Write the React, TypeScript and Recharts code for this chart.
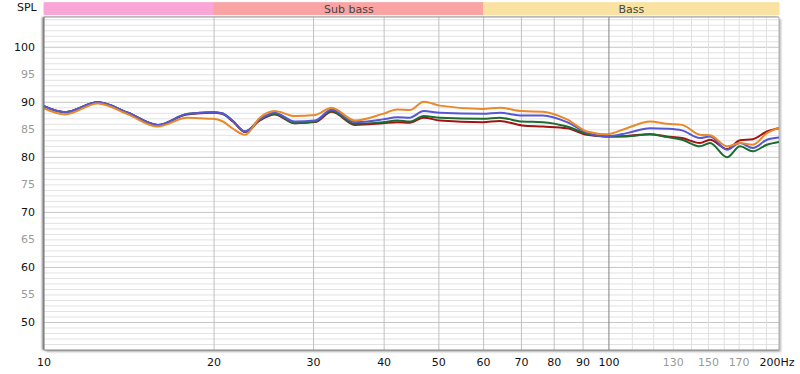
import React from 'react';
import { LineChart, Line, XAxis, YAxis, CartesianGrid, ReferenceArea, ReferenceLine } from 'recharts';

const freqs = [10, 10.9, 12.46, 14.08, 15.9, 17.9, 18.9, 19.9, 20.65, 21.6, 22.7, 24.1, 25.6, 27.8, 30.2, 32.3, 35.5, 39.8, 42.2, 44.4, 47.0, 50.2, 59.8, 64.1, 70.2, 76.4, 84.3, 91.4, 99.2, 107.6, 118.2, 126.7, 134.7, 144.9, 151, 161.8, 170.6, 179.8, 190.4, 200];
const orange = [88.9, 87.8, 89.8, 87.8, 85.6, 87.2, 87.1, 87.0, 86.6, 85.2, 84.1, 87.2, 88.4, 87.5, 87.7, 89.0, 86.7, 87.9, 88.7, 88.6, 90.1, 89.4, 88.8, 89.0, 88.4, 88.3, 86.9, 84.7, 84.2, 85.3, 86.5, 86.1, 85.9, 84.1, 84.0, 82.0, 82.6, 82.3, 84.4, 85.4];
const blue = [89.3, 88.2, 90.0, 88.1, 85.9, 87.9, 88.1, 88.2, 88.0, 86.6, 84.7, 86.9, 88.1, 86.5, 86.7, 88.7, 86.4, 86.9, 87.3, 87.2, 88.4, 88.1, 87.9, 88.1, 87.6, 87.6, 86.4, 84.5, 83.8, 84.4, 85.3, 85.2, 84.9, 83.5, 83.8, 81.4, 82.6, 81.7, 83.2, 83.6];
const green = [89.3, 88.2, 90.0, 88.1, 85.9, 87.9, 88.1, 88.2, 88.0, 86.6, 84.7, 86.8, 87.9, 86.2, 86.5, 88.4, 86.1, 86.4, 86.7, 86.5, 87.5, 87.2, 87.0, 87.2, 86.5, 86.4, 85.6, 84.3, 83.8, 83.8, 84.2, 83.7, 83.2, 82.0, 82.6, 80.0, 82.0, 81.1, 82.3, 82.8];
const red = [89.3, 88.2, 90.0, 88.1, 85.9, 87.8, 88.0, 88.1, 87.9, 86.5, 84.6, 86.7, 87.8, 86.2, 86.4, 88.3, 85.9, 86.2, 86.4, 86.3, 87.2, 86.7, 86.4, 86.6, 85.8, 85.6, 85.3, 84.1, 83.8, 83.9, 84.2, 83.8, 83.5, 82.6, 83.2, 81.5, 83.1, 83.3, 84.7, 85.3];

const xTicks = [10, 20, 30, 40, 50, 60, 70, 80, 90, 100, 130, 150, 170, 200];
const grayXTicks = [130, 150, 170];
const yTicks = [50, 55, 60, 65, 70, 75, 80, 85, 90, 95, 100];
const midVLines = [20, 30, 40, 50, 60, 70, 80, 90];
const fineVLines = [110, 120, 130, 140, 150, 160, 170, 180, 190];
const majorHLines = [50, 60, 70, 80, 90, 100];
const minorHLines = Array.from({ length: 60 }, (_, i) => 46 + i).filter((v) => v % 10 !== 0);

const bands = [
  { name: '', from: 10, to: 20, color: '#f9a6d6' },
  { name: 'Sub bass', from: 20, to: 60, color: '#f9a3a3' },
  { name: 'Bass', from: 60, to: 200, color: '#f9e2a2' },
];

const data = freqs.map((f, i) => ({ f, orange: orange[i], blue: blue[i], green: green[i], red: red[i] }));

const FONT = 'DejaVu Sans, sans-serif';

const XTick = (props: any) => {
  const { x, y, payload } = props;
  const v = payload.value;
  const gray = grayXTicks.includes(v);
  const label = v === 200 ? '200Hz' : String(v);
  return (
    <text x={v === 200 ? x - 2 : x} y={y + 4} textAnchor="middle" dominantBaseline="central" fontSize={11} fontFamily={FONT} fill={gray ? '#9a9a9a' : '#111'}>
      {label}
    </text>
  );
};

const YTick = (props: any) => {
  const { x, y, payload } = props;
  const v = payload.value;
  const gray = v % 10 !== 0;
  return (
    <text x={x - 1} y={y} textAnchor="end" dominantBaseline="central" fontSize={11} fontFamily={FONT} fill={gray ? '#9a9a9a' : '#111'}>
      {v}
    </text>
  );
};

export default function App() {
  return (
    <div style={{ position: 'absolute', left: 0, top: 0, width: 800, height: 374, background: '#fff' }}>
      <div
        style={{
          position: 'absolute',
          left: 44,
          top: 17,
          width: 735,
          height: 333,
          background: '#fff',
          boxShadow: '-2px 0 2px #8a8a8a, 2px 2px 2px #b8b8b8',
        }}
      />
      <div
        style={{
          position: 'absolute',
          left: 17,
          top: 1,
          fontFamily: FONT,
          fontSize: 11,
          color: '#111',
          lineHeight: '14px',
        }}
      >
        SPL
      </div>
      <div style={{ position: 'absolute', left: 0, top: 0 }}>
        <LineChart width={800} height={374} data={data} margin={{ top: 17, right: 21, bottom: 0, left: 0 }}>
          <CartesianGrid horizontalValues={minorHLines} vertical={false} stroke="#e2e2e2" />
          <CartesianGrid horizontalValues={majorHLines} vertical={false} stroke="#c6c6c6" />
          <CartesianGrid verticalValues={fineVLines} horizontal={false} stroke="#e0e0e0" />
          <CartesianGrid verticalValues={midVLines} horizontal={false} stroke="#c0c0c0" />
          <CartesianGrid verticalValues={[100]} horizontal={false} stroke="#808080" />
          <XAxis
            dataKey="f"
            type="number"
            scale="log"
            domain={[10, 200]}
            ticks={xTicks}
            tick={<XTick />}
            tickLine={false}
            axisLine={{ stroke: '#8a8a8a' }}
            height={24}
            interval={0}
            allowDataOverflow
          />
          <YAxis
            type="number"
            domain={[45, 105.5]}
            ticks={yTicks}
            tick={<YTick />}
            tickLine={false}
            axisLine={{ stroke: '#707070' }}
            width={44}
            interval={0}
            allowDataOverflow
          />
          <ReferenceLine y={105.5} stroke="#9a9a9a" ifOverflow="visible" />
          <ReferenceLine x={200} stroke="#b0b0b0" ifOverflow="visible" />
          {bands.map((b) => (
            <ReferenceArea
              key={b.from}
              x1={b.from}
              x2={b.to}
              y1={105.95}
              y2={108.1}
              fill={b.color}
              fillOpacity={1}
              stroke={b.color}
              ifOverflow="visible"
              label={b.name ? { value: b.name, position: 'center', fontSize: 11, fontFamily: FONT, fill: '#444' } : undefined}
            />
          ))}
          <Line type="monotone" dataKey="red" stroke="#a31212" strokeWidth={2} dot={false} isAnimationActive={false} />
          <Line type="monotone" dataKey="green" stroke="#1c6c32" strokeWidth={2} dot={false} isAnimationActive={false} />
          <Line type="monotone" dataKey="blue" stroke="#5757d6" strokeWidth={2} dot={false} isAnimationActive={false} />
          <Line type="monotone" dataKey="orange" stroke="#e8892a" strokeWidth={2} dot={false} isAnimationActive={false} />
        </LineChart>
      </div>
    </div>
  );
}
